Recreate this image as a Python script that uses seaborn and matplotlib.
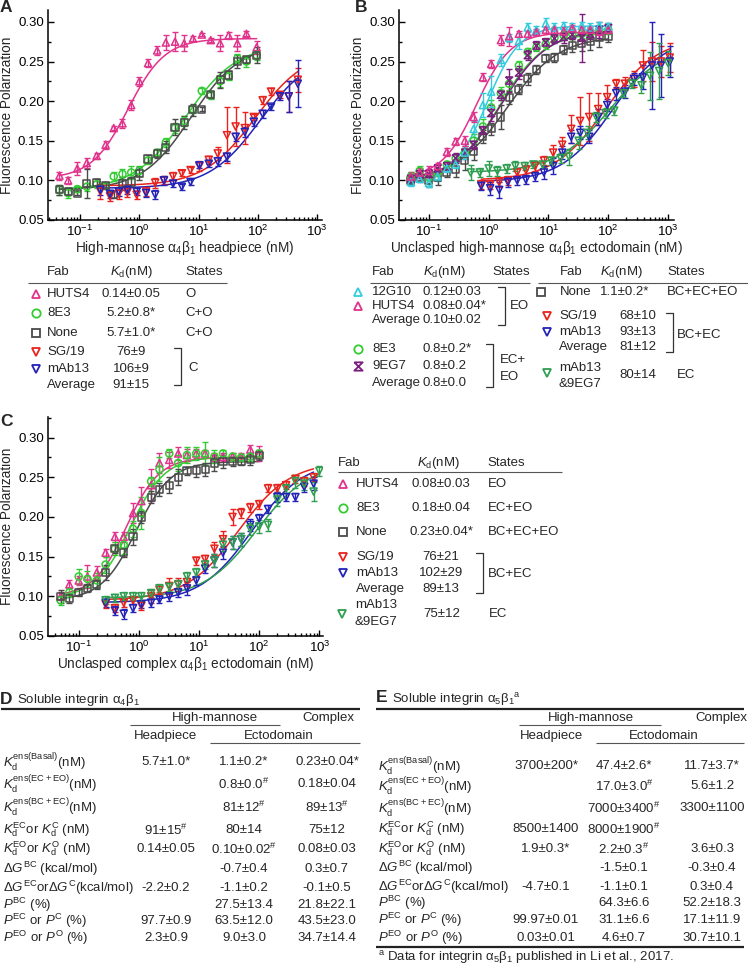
import numpy as np
import seaborn as sns
import matplotlib.pyplot as plt
from matplotlib.ticker import MultipleLocator, FormatStrFormatter

sns.set_style("ticks")
plt.rcParams["font.family"] = ["Liberation Sans", "DejaVu Sans"]
plt.rcParams["mathtext.fontset"] = "custom"
plt.rcParams["mathtext.rm"] = "Liberation Sans"
plt.rcParams["mathtext.it"] = "Liberation Sans:italic"
plt.rcParams["mathtext.bf"] = "Liberation Sans:bold"
plt.rcParams["font.size"] = 9.5

W, H = 748, 965

MAGENTA = "#e0338c"
CYAN = "#33ccdd"
GREEN = "#33cc33"
GRAY = "#4a4a4a"
RED = "#e8231e"
BLUE = "#2323b8"
DKGREEN = "#2e9e50"
PURPLE = "#7b1f7e"
HOURGLASS = [(-1, 1), (1, 1), (-1, -1), (1, -1), (-1, 1)]

# ---------------- panel A ----------------
a_conc_lo = [0.045, 0.063, 0.09, 0.13, 0.19, 0.27, 0.37, 0.52, 0.73, 1.0, 1.4, 2.0,
             2.8, 4.0, 5.7, 8.0, 11.3, 16, 23, 32, 45, 64, 95]
a_huts4 = [0.106, 0.100, 0.115, 0.122, 0.131, 0.145, 0.166, 0.172, 0.195, 0.225, 0.248, 0.264,
           0.274, 0.275, 0.273, 0.279, 0.284, 0.277, 0.273, 0.283, 0.273, 0.285, 0.268]
a_huts4_err = [0.005, 0.004, 0.008, 0.006, 0.004, 0.005, 0.003, 0.006, 0.006, 0.006, 0.005, 0.006,
               0.010, 0.012, 0.010, 0.003, 0.002, 0.003, 0.010, 0.004, 0.010, 0.003, 0.008]
a_8e3 = [0.088, 0.084, 0.089, 0.092, 0.095, 0.093, 0.105, 0.108, 0.110, 0.112, 0.125, 0.135,
         0.148, 0.166, 0.175, 0.190, 0.213, 0.208, 0.225, 0.231, 0.254, 0.250, 0.258]
a_8e3_err = [0.006, 0.006, 0.004, 0.005, 0.004, 0.004, 0.006, 0.006, 0.008, 0.006, 0.004, 0.005,
             0.006, 0.006, 0.006, 0.005, 0.004, 0.005, 0.007, 0.004, 0.006, 0.007, 0.006]
a_none = [0.088, 0.086, 0.084, 0.096, 0.097, 0.094, 0.082, 0.096, 0.098, 0.109, 0.127, 0.134,
          0.142, 0.167, 0.173, 0.189, 0.190, 0.208, 0.227, 0.233, 0.250, 0.252, 0.258]
a_none_err = [0.006, 0.005, 0.003, 0.018, 0.005, 0.004, 0.004, 0.008, 0.006, 0.008, 0.005, 0.006,
              0.008, 0.010, 0.008, 0.008, 0.003, 0.004, 0.010, 0.005, 0.008, 0.004, 0.010]
a_conc_hi = [0.22, 0.32, 0.45, 0.63, 0.9, 1.3, 1.85, 2.6, 3.7, 5.2, 7.3, 10.3, 14.8, 21, 30,
             42, 60, 85, 120, 166, 235, 330, 470]
a_sg19 = [0.086, 0.080, 0.083, 0.085, 0.082, 0.086, 0.097, 0.100, 0.105, 0.109, 0.113, 0.118,
          0.126, 0.134, 0.157, 0.168, 0.166, 0.180, 0.201, 0.212, 0.208, 0.206, 0.227]
a_sg19_err = [0.010, 0.006, 0.006, 0.006, 0.005, 0.006, 0.006, 0.005, 0.005, 0.004, 0.004, 0.006,
              0.005, 0.008, 0.035, 0.025, 0.020, 0.004, 0.005, 0.004, 0.004, 0.020, 0.015]
a_mab13 = [0.088, 0.083, 0.086, 0.088, 0.086, 0.084, 0.082, 0.100, 0.096, 0.092, 0.098, 0.119,
           0.121, 0.124, 0.130, 0.155, 0.161, 0.174, 0.184, 0.193, 0.206, 0.206, 0.222]
a_mab13_err = [0.006, 0.005, 0.006, 0.005, 0.004, 0.005, 0.006, 0.006, 0.004, 0.004, 0.004, 0.004,
               0.004, 0.006, 0.005, 0.005, 0.006, 0.005, 0.005, 0.004, 0.004, 0.020, 0.030]
# fitted curves: bottom, top, midpoint, hill slope, first conc, last conc
a_fit_huts4 = (0.102, 0.279, 0.65, 1.4, 0.045, 95)
a_fit_8e3 = (0.088, 0.272, 6.0, 1.0, 0.045, 95)
a_fit_none = (0.088, 0.272, 7.5, 1.05, 0.045, 95)
a_fit_sg19 = (0.093, 0.265, 90, 1.0, 0.22, 470)
a_fit_mab13 = (0.090, 0.262, 110, 1.0, 0.22, 470)

# ---------------- panel B ----------------
b_conc_lo = [0.05, 0.07, 0.1, 0.14, 0.2, 0.28, 0.4, 0.56, 0.8, 1.1, 1.6, 2.2, 3.2, 4.5,
             6.3, 9, 12.6, 18, 25, 36, 50, 71, 100]
b_huts4 = [0.105, 0.110, 0.112, 0.118, 0.136, 0.149, 0.150, 0.180, 0.230, 0.247, 0.277, 0.282,
           0.285, 0.285, 0.287, 0.290, 0.290, 0.288, 0.292, 0.290, 0.290, 0.288, 0.290]
b_huts4_err = [0.006, 0.005, 0.006, 0.004, 0.005, 0.004, 0.006, 0.006, 0.005, 0.005, 0.006, 0.012,
               0.004, 0.004, 0.004, 0.004, 0.004, 0.005, 0.004, 0.004, 0.004, 0.005, 0.004]
b_12g10 = [0.098, 0.102, 0.097, 0.105, 0.115, 0.120, 0.135, 0.165, 0.195, 0.212, 0.252, 0.280,
           0.276, 0.293, 0.290, 0.298, 0.293, 0.295, 0.294, 0.295, 0.293, 0.295, 0.294]
b_12g10_err = [0.005, 0.004, 0.005, 0.006, 0.004, 0.005, 0.008, 0.010, 0.015, 0.020, 0.008, 0.005,
               0.010, 0.006, 0.005, 0.007, 0.005, 0.005, 0.005, 0.005, 0.005, 0.005, 0.005]
b_8e3 = [0.105, 0.112, 0.104, 0.110, 0.120, 0.128, 0.135, 0.150, 0.168, 0.192, 0.210, 0.222,
         0.245, 0.262, 0.268, 0.272, 0.280, 0.283, 0.285, 0.285, 0.286, 0.290, 0.290]
b_8e3_err = [0.006, 0.006, 0.005, 0.005, 0.005, 0.005, 0.006, 0.008, 0.010, 0.010, 0.008, 0.008,
             0.006, 0.005, 0.005, 0.006, 0.005, 0.005, 0.006, 0.005, 0.005, 0.005, 0.005]
b_9eg7 = [0.102, 0.108, 0.108, 0.115, 0.118, 0.128, 0.135, 0.145, 0.163, 0.185, 0.208, 0.226,
          0.236, 0.258, 0.270, 0.274, 0.279, 0.281, 0.284, 0.280, 0.285, 0.290, 0.292]
b_9eg7_err = [0.005, 0.005, 0.006, 0.005, 0.005, 0.006, 0.008, 0.005, 0.005, 0.010, 0.006, 0.015,
              0.008, 0.006, 0.006, 0.006, 0.006, 0.008, 0.006, 0.030, 0.006, 0.010, 0.006]
b_none = [0.100, 0.104, 0.100, 0.104, 0.110, 0.114, 0.125, 0.136, 0.155, 0.165, 0.180, 0.205,
          0.215, 0.228, 0.240, 0.254, 0.255, 0.265, 0.270, 0.273, 0.275, 0.280, 0.282]
b_none_err = [0.006, 0.006, 0.008, 0.010, 0.006, 0.010, 0.012, 0.010, 0.008, 0.008, 0.015, 0.008,
              0.006, 0.008, 0.006, 0.005, 0.006, 0.006, 0.008, 0.010, 0.010, 0.012, 0.008]
b_conc_hi = [0.75, 1.06, 1.5, 2.1, 3.0, 4.2, 6.0, 8.4, 12, 17, 24, 34, 48, 68, 96, 136, 190,
             270, 380, 540, 760, 1070]
b_sg19 = [0.095, 0.095, 0.098, 0.100, 0.110, 0.113, 0.118, 0.125, 0.135, 0.145, 0.165, 0.175,
          0.180, 0.190, 0.205, 0.222, 0.222, 0.228, 0.245, 0.250, 0.250, 0.255]
b_sg19_err = [0.006, 0.006, 0.006, 0.006, 0.006, 0.006, 0.006, 0.006, 0.010, 0.010, 0.018, 0.030,
              0.030, 0.020, 0.015, 0.006, 0.008, 0.010, 0.020, 0.025, 0.020, 0.018]
b_mab13 = [0.093, 0.090, 0.088, 0.098, 0.100, 0.101, 0.105, 0.110, 0.118, 0.135, 0.155, 0.160,
           0.155, 0.180, 0.195, 0.210, 0.212, 0.228, 0.230, 0.245, 0.245, 0.250]
b_mab13_err = [0.005, 0.008, 0.010, 0.006, 0.006, 0.006, 0.006, 0.008, 0.010, 0.008, 0.008, 0.008,
               0.008, 0.010, 0.008, 0.008, 0.008, 0.008, 0.015, 0.055, 0.040, 0.020]
b_conc_combo = [0.5, 0.71, 1.0, 1.4, 2.0, 2.8, 4.0, 5.6, 8.0, 11, 16, 22, 32, 45, 63, 90, 126,
                180, 250, 360, 500, 710, 1000]
b_combo = [0.110, 0.110, 0.115, 0.112, 0.115, 0.118, 0.118, 0.120, 0.120, 0.125, 0.128, 0.130,
           0.150, 0.160, 0.180, 0.185, 0.188, 0.210, 0.222, 0.220, 0.232, 0.238, 0.248]
b_combo_err = [0.010, 0.006, 0.010, 0.006, 0.006, 0.006, 0.005, 0.005, 0.005, 0.005, 0.006, 0.010,
               0.010, 0.008, 0.006, 0.006, 0.005, 0.005, 0.006, 0.010, 0.030, 0.035, 0.015]
b_fit_huts4 = (0.103, 0.287, 0.62, 1.5, 0.05, 100)
b_fit_12g10 = (0.103, 0.295, 0.95, 1.6, 0.05, 100)
b_fit_8e3 = (0.100, 0.287, 1.5, 1.15, 0.05, 100)
b_fit_9eg7 = (0.100, 0.290, 1.6, 1.1, 0.05, 100)
b_fit_none = (0.100, 0.282, 2.0, 1.0, 0.05, 100)
b_fit_sg19 = (0.100, 0.280, 90, 1.0, 0.75, 1070)
b_fit_mab13 = (0.098, 0.282, 120, 1.0, 0.75, 1070)
b_fit_combo = (0.110, 0.272, 110, 0.95, 0.5, 1000)

# ---------------- panel C ----------------
c_conc_lo = b_conc_lo
c_huts4 = [0.100, 0.115, 0.120, 0.125, 0.130, 0.155, 0.175, 0.175, 0.205, 0.220, 0.240, 0.268,
           0.272, 0.280, 0.278, 0.280, 0.280, 0.276, 0.276, 0.276, 0.276, 0.285, 0.280]
c_huts4_err = [0.005, 0.005, 0.006, 0.015, 0.008, 0.005, 0.006, 0.006, 0.012, 0.018, 0.020, 0.013,
               0.010, 0.008, 0.008, 0.006, 0.005, 0.005, 0.005, 0.005, 0.005, 0.006, 0.010]
c_8e3 = [0.095, 0.105, 0.125, 0.122, 0.120, 0.140, 0.160, 0.165, 0.185, 0.205, 0.245, 0.260,
         0.280, 0.268, 0.278, 0.280, 0.280, 0.276, 0.280, 0.276, 0.275, 0.276, 0.280]
c_8e3_err = [0.006, 0.006, 0.010, 0.010, 0.010, 0.010, 0.008, 0.012, 0.010, 0.020, 0.006, 0.015,
             0.006, 0.010, 0.010, 0.008, 0.015, 0.008, 0.005, 0.005, 0.005, 0.005, 0.005]
c_none = [0.100, 0.097, 0.105, 0.110, 0.115, 0.130, 0.160, 0.155, 0.175, 0.200, 0.225, 0.235,
          0.240, 0.250, 0.258, 0.258, 0.260, 0.268, 0.270, 0.270, 0.270, 0.273, 0.278]
c_none_err = [0.008, 0.006, 0.005, 0.005, 0.006, 0.010, 0.005, 0.006, 0.010, 0.008, 0.008, 0.008,
              0.010, 0.010, 0.005, 0.008, 0.008, 0.010, 0.008, 0.006, 0.005, 0.008, 0.006]
c_conc_hi = [0.28, 0.4, 0.56, 0.8, 1.1, 1.6, 2.2, 3.2, 4.5, 6.3, 9, 12.6, 18, 25, 36, 50, 71,
             100, 140, 200, 280, 400, 560, 800]
c_sg19 = [0.090, 0.085, 0.092, 0.095, 0.088, 0.100, 0.108, 0.113, 0.115, 0.118, 0.145, 0.147,
          0.160, 0.172, 0.200, 0.205, 0.212, 0.216, 0.236, 0.236, 0.240, 0.248, 0.245, 0.250]
c_sg19_err = [0.005, 0.005, 0.005, 0.005, 0.005, 0.008, 0.005, 0.010, 0.008, 0.005, 0.005, 0.005,
              0.008, 0.010, 0.010, 0.006, 0.006, 0.006, 0.005, 0.005, 0.005, 0.005, 0.006, 0.005]
c_mab13 = [0.092, 0.082, 0.078, 0.085, 0.090, 0.092, 0.096, 0.100, 0.105, 0.110, 0.120, 0.135,
           0.145, 0.155, 0.168, 0.172, 0.190, 0.198, 0.210, 0.225, 0.225, 0.225, 0.238, 0.242]
c_mab13_err = [0.005, 0.006, 0.006, 0.005, 0.005, 0.005, 0.005, 0.006, 0.006, 0.008, 0.006, 0.006,
               0.008, 0.008, 0.008, 0.008, 0.008, 0.006, 0.005, 0.006, 0.005, 0.005, 0.006, 0.008]
c_conc_combo = [0.28, 0.4, 0.56, 0.8, 1.1, 1.6, 2.2, 3.2, 4.5, 6.3, 9, 12.6, 18, 25, 36, 50,
                71, 100, 140, 200, 280, 400, 560, 800, 1000]
c_combo = [0.095, 0.098, 0.100, 0.100, 0.100, 0.104, 0.110, 0.112, 0.115, 0.125, 0.130, 0.140,
           0.145, 0.165, 0.168, 0.172, 0.185, 0.188, 0.190, 0.222, 0.236, 0.245, 0.242, 0.232, 0.258]
c_combo_err = [0.005, 0.005, 0.005, 0.005, 0.006, 0.005, 0.005, 0.005, 0.006, 0.006, 0.006, 0.006,
               0.008, 0.008, 0.008, 0.008, 0.008, 0.008, 0.008, 0.008, 0.006, 0.008, 0.008, 0.012, 0.006]
c_fit_huts4 = (0.100, 0.275, 0.62, 1.6, 0.05, 100)
c_fit_8e3 = (0.098, 0.276, 0.72, 1.5, 0.05, 100)
c_fit_none = (0.095, 0.270, 0.9, 1.5, 0.05, 100)
c_fit_sg19 = (0.095, 0.270, 45, 1.0, 0.28, 800)
c_fit_mab13 = (0.092, 0.272, 75, 1.0, 0.28, 800)
c_fit_combo = (0.098, 0.268, 90, 1.0, 0.28, 1000)

# ---------------- tables D / E ----------------
row_labels = [
    r"$K_\mathrm{d}^\mathrm{ens(Basal)}$(nM)",
    r"$K_\mathrm{d}^\mathrm{ens(EC+EO)}$(nM)",
    r"$K_\mathrm{d}^\mathrm{ens(BC+EC)}$(nM)",
    r"$K_\mathrm{d}^\mathrm{EC}$or $K_\mathrm{d}^\mathrm{C}$ (nM)",
    r"$K_\mathrm{d}^\mathrm{EO}$or $K_\mathrm{d}^\mathrm{O}$ (nM)",
    r"Δ$G^\mathrm{BC}$ (kcal/mol)",
    r"Δ$G^\mathrm{EC}$orΔ$G^\mathrm{C}$(kcal/mol)",
    r"$P^\mathrm{BC}$ (%)",
    r"$P^\mathrm{EC}$ or $P^\mathrm{C}$ (%)",
    r"$P^\mathrm{EO}$ or $P^\mathrm{O}$ (%)",
]
HS = r"$^{\#}$"
d_headpiece = ["5.7±1.0*", "", "", "91±15" + HS, "0.14±0.05", "", "-2.2±0.2", "", "97.7±0.9", "2.3±0.9"]
d_ecto = ["1.1±0.2*", "0.8±0.0" + HS, "81±12" + HS, "80±14", "0.10±0.02" + HS, "-0.7±0.4",
          "-1.1±0.2", "27.5±13.4", "63.5±12.0", "9.0±3.0"]
d_complex = ["0.23±0.04*", "0.18±0.04", "89±13" + HS, "75±12", "0.08±0.03", "0.3±0.7",
             "-0.1±0.5", "21.8±22.1", "43.5±23.0", "34.7±14.4"]
e_headpiece = ["3700±200*", "", "", "8500±1400", "1.9±0.3*", "", "-4.7±0.1", "", "99.97±0.01", "0.03±0.01"]
e_ecto = ["47.4±2.6*", "17.0±3.0" + HS, "7000±3400" + HS, "8000±1900" + HS, "2.2±0.3" + HS,
          "-1.5±0.1", "-1.1±0.1", "64.3±6.6", "31.1±6.6", "4.6±0.7"]
e_complex = ["11.7±3.7*", "5.6±1.2", "3300±1100", "", "3.6±0.3", "-0.3±0.4", "0.3±0.4",
             "52.2±18.3", "17.1±11.9", "30.7±10.1"]

fig = plt.figure(figsize=(W / 100, H / 100), dpi=100)


def box(x0, y0, x1, y1):
    return [x0 / W, 1 - y1 / H, (x1 - x0) / W, (y1 - y0) / H]


def setup(ax, xlim, ytop, xlabel):
    ax.set_xscale("log")
    ax.set_xlim(*xlim)
    ax.set_ylim(0.05, ytop)
    ax.yaxis.set_major_locator(MultipleLocator(0.05))
    ax.yaxis.set_minor_locator(MultipleLocator(0.025))
    ax.yaxis.set_major_formatter(FormatStrFormatter("%.2f"))
    ax.tick_params(which="both", direction="in", width=1, colors="black", labelsize=9.5)
    ax.tick_params(which="major", length=4, pad=3)
    ax.tick_params(which="minor", length=2.5)
    sns.despine(ax=ax)
    for s in ("left", "bottom"):
        ax.spines[s].set_linewidth(1.1)
        ax.spines[s].set_color("black")
    ax.set_xlabel(xlabel, fontsize=9.8, labelpad=0)
    ax.set_ylabel("Fluorescence Polarization", fontsize=9.8, labelpad=3)
    ax.grid(False)


def series(ax, x, y, err, color, marker):
    ax.errorbar(x, y, yerr=err, fmt="none", ecolor=color, elinewidth=1, capsize=2.5,
                capthick=1, zorder=2)
    sns.scatterplot(x=x, y=y, marker=marker, s=26, facecolors="none", edgecolor=color,
                    linewidth=1.1, ax=ax, zorder=3)


def fit(ax, p, color):
    lo, hi, mid, n, x0, x1 = p
    xs = np.logspace(np.log10(x0), np.log10(x1), 150)
    ys = lo + (hi - lo) * xs ** n / (mid ** n + xs ** n)
    sns.lineplot(x=xs, y=ys, color=color, linewidth=1.1, ax=ax, zorder=1)


# panel A
axA = fig.add_axes(box(48, 10, 322, 220))
setup(axA, (10 ** -1.54, 10 ** 3.08), 0.315, r"High-mannose α$_4$β$_1$ headpiece (nM)")
for p, c in [(a_fit_huts4, MAGENTA), (a_fit_8e3, GREEN), (a_fit_none, GRAY),
             (a_fit_sg19, RED), (a_fit_mab13, BLUE)]:
    fit(axA, p, c)
series(axA, a_conc_lo, a_huts4, a_huts4_err, MAGENTA, "^")
series(axA, a_conc_lo, a_8e3, a_8e3_err, GREEN, "o")
series(axA, a_conc_lo, a_none, a_none_err, GRAY, "s")
series(axA, a_conc_hi, a_sg19, a_sg19_err, RED, "v")
series(axA, a_conc_hi, a_mab13, a_mab13_err, BLUE, "v")

# panel B
axB = fig.add_axes(box(399, 10, 674, 220))
setup(axB, (10 ** -1.5, 10 ** 3.1), 0.315, r"Unclasped high-mannose α$_4$β$_1$ ectodomain (nM)")
for p, c in [(b_fit_huts4, MAGENTA), (b_fit_12g10, CYAN), (b_fit_8e3, GREEN),
             (b_fit_9eg7, PURPLE), (b_fit_none, GRAY), (b_fit_sg19, RED),
             (b_fit_mab13, BLUE), (b_fit_combo, DKGREEN)]:
    fit(axB, p, c)
series(axB, b_conc_lo, b_none, b_none_err, GRAY, "s")
series(axB, b_conc_lo, b_8e3, b_8e3_err, GREEN, "o")
series(axB, b_conc_lo, b_9eg7, b_9eg7_err, PURPLE, HOURGLASS)
series(axB, b_conc_lo, b_12g10, b_12g10_err, CYAN, "^")
series(axB, b_conc_lo, b_huts4, b_huts4_err, MAGENTA, "^")
series(axB, b_conc_hi, b_sg19, b_sg19_err, RED, "v")
series(axB, b_conc_hi, b_mab13, b_mab13_err, BLUE, "v")
series(axB, b_conc_combo, b_combo, b_combo_err, DKGREEN, "v")

# panel C
axC = fig.add_axes(box(48, 417, 323, 636))
setup(axC, (10 ** -1.51, 10 ** 3.06), 0.326, r"Unclasped complex α$_4$β$_1$ ectodomain (nM)")
for p, c in [(c_fit_huts4, MAGENTA), (c_fit_8e3, GREEN), (c_fit_none, GRAY),
             (c_fit_sg19, RED), (c_fit_mab13, BLUE), (c_fit_combo, DKGREEN)]:
    fit(axC, p, c)
series(axC, c_conc_lo, c_huts4, c_huts4_err, MAGENTA, "^")
series(axC, c_conc_lo, c_8e3, c_8e3_err, GREEN, "o")
series(axC, c_conc_lo, c_none, c_none_err, GRAY, "s")
series(axC, c_conc_hi, c_sg19, c_sg19_err, RED, "v")
series(axC, c_conc_hi, c_mab13, c_mab13_err, BLUE, "v")
series(axC, c_conc_combo, c_combo, c_combo_err, DKGREEN, "v")

# overlay in pixel coordinates for tables and panel letters
ov = fig.add_axes([0, 0, 1, 1])
ov.set_xlim(0, W)
ov.set_ylim(H, 0)
ov.axis("off")

FS = 9.5


def t(x, y, s, ha="left", **kw):
    ov.text(x, y, s, ha=ha, va="center", fontsize=kw.pop("fontsize", FS), **kw)


def hline(x0, x1, y, lw=0.8, color="#555555"):
    ov.plot([x0, x1], [y, y], color=color, lw=lw, solid_capstyle="butt")


def glyph(x, y, color, marker):
    ov.plot([x], [y], marker=marker, ms=6, mfc="none", mec=color, mew=1.3, ls="none")


def bracket(x, y0, y1, tick=7):
    ov.plot([x - tick, x, x, x - tick], [y0, y0, y1, y1], color="#333333", lw=0.9)


KD = r"$K_\mathrm{d}$(nM)"

for x, y, s in [(0, 8, "A"), (355, 8, "B"), (0, 422, "C"), (0, 699, "D"), (376, 698, "E")]:
    t(x, y, s, fontsize=12.5, fontweight="bold")

# table A
t(47, 272, "Fab"); t(110, 272, KD); t(185, 272, "States")
hline(28, 227, 283)
for name, y, col, mk, val, st in [("HUTS4", 294, MAGENTA, "^", "0.14±0.05", "O"),
                                  ("8E3", 313, GREEN, "o", "5.2±0.8*", "C+O"),
                                  ("None", 333, GRAY, "s", "5.7±1.0*", "C+O"),
                                  ("SG/19", 352, RED, "v", "76±9", ""),
                                  ("mAb13", 369, BLUE, "v", "106±9", ""),
                                  ("Average", 385, None, None, "91±15", "")]:
    if col:
        glyph(36, y, col, mk)
    t(47, y, name); t(131, y, val, ha="center"); t(185, y, st)
bracket(181, 348, 385)
t(188, 368, "C")

# table B left
t(372, 272, "Fab"); t(423, 272, KD); t(492, 272, "States")
hline(370, 530, 283)
for name, y, col, mk, val in [("12G10", 292, CYAN, "^", "0.12±0.03"),
                              ("HUTS4", 306, MAGENTA, "^", "0.08±0.04*"),
                              ("Average", 320, None, None, "0.10±0.02"),
                              ("8E3", 349, GREEN, "o", "0.8±0.2*"),
                              ("9EG7", 366, PURPLE, HOURGLASS, "0.8±0.2"),
                              ("Average", 383, None, None, "0.8±0.0")]:
    if col:
        glyph(358, y, col, mk)
    t(372, y, name); t(423, y, val)
bracket(505, 287, 325)
t(510, 306, "EO")
bracket(493, 344, 387)
t(500, 360, "EC+"); t(500, 377, "EO")

# table B right
t(560, 272, "Fab"); t(600, 272, KD); t(667, 272, "States")
hline(538, 748, 283)
glyph(541, 292, GRAY, "s"); t(560, 292, "None"); t(600, 292, "1.1±0.2*"); t(667, 292, "BC+EC+EO")
for name, y, col, val in [("SG/19", 316, RED, "68±10"), ("mAb13", 332, BLUE, "93±13"),
                          ("Average", 347, None, "81±12")]:
    if col:
        glyph(547, y, col, "v")
    t(559, y, name); t(619, y, val)
bracket(673, 313, 352)
t(677, 335, "BC+EC")
glyph(547, 373, DKGREEN, "v")
t(559, 368, "mAb13"); t(559, 384, "&9EG7"); t(619, 375, "80±14"); t(677, 375, "EC")

# table C
t(338, 463, "Fab"); t(417, 463, KD); t(487, 463, "States")
hline(338, 562, 472)
for name, y, col, mk, val, st in [("HUTS4", 484, MAGENTA, "^", "0.08±0.03", "EO"),
                                  ("8E3", 508, GREEN, "o", "0.18±0.04", "EC+EO"),
                                  ("None", 532, GRAY, "s", "0.23±0.04*", "BC+EC+EO"),
                                  ("SG/19", 557, RED, "v", "76±21", ""),
                                  ("mAb13", 573, BLUE, "v", "102±29", ""),
                                  ("Average", 589, None, None, "89±13", "")]:
    if col:
        glyph(343, y, col, mk)
    t(356, y, name); t(441, y, val, ha="center"); t(488, y, st)
bracket(483, 553, 593)
t(488, 574, "BC+EC")
glyph(342, 614, DKGREEN, "v")
t(355, 605, "mAb13"); t(355, 622, "&9EG7"); t(442, 614, "75±12", ha="center"); t(489, 614, "EC")


def big_table(x0, x1, title, rows_y, cols_x, cols, hm, hm_line, cx, hp, ec, ec_line):
    t(x0 + 16, 700, title)
    hline(x0, x1, 709, lw=1.6, color="#222222")
    t(hm, 718, "High-mannose", ha="center")
    hline(hm_line[0], hm_line[1], 725)
    t(cx, 718, "Complex", ha="center")
    t(hp, 736, "Headpiece", ha="center")
    t(ec, 736, "Ectodomain", ha="center")
    hline(ec_line[0], ec_line[1], 743)
    for i, y in enumerate(rows_y):
        t(x0 + 2, y, row_labels[i])
        for cxx, col in zip(cols_x, cols):
            if col[i]:
                t(cxx, y, col[i], ha="center")


d_rows_y = [762, 784, 807, 830, 849, 869, 888, 905, 921, 938]
e_rows_y = [766, 786, 808, 829, 849, 868, 887, 903, 920, 938]
big_table(1, 360, r"Soluble integrin α$_4$β$_1$", d_rows_y, [166, 244, 327],
          [d_headpiece, d_ecto, d_complex], 215, (130, 280), 328, 166, 279, (210, 360))
big_table(376, 744, r"Soluble integrin α$_5$β$_1$$^\mathrm{a}$", e_rows_y, [546, 624, 712],
          [e_headpiece, e_ecto, e_complex], 591, (519, 661), 721, 552, 664, (596, 744))
hline(376, 744, 947, lw=1.6, color="#222222")
t(378, 957, r"$^\mathrm{a}$ Data for integrin α$_5$β$_1$ published in Li et al., 2017.")

fig.savefig("out.png", dpi=100)
